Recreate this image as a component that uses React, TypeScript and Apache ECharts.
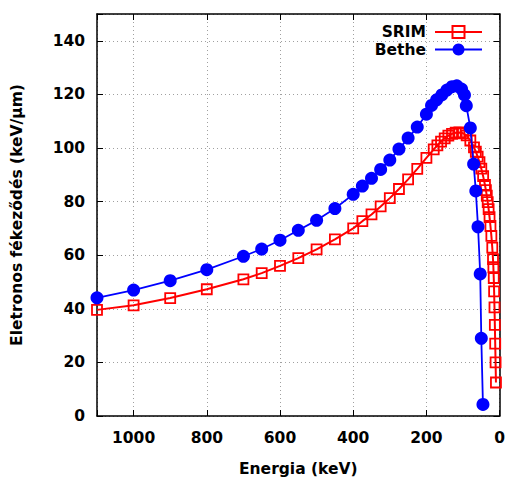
import React, { useEffect, useRef } from "react";
import * as echarts from "echarts";

const srimEnergy = [1100, 1000, 900, 800, 700, 650, 600, 550, 500, 450, 400, 375, 350, 325, 300, 275, 250, 225, 200, 180, 170, 160, 150, 140, 130, 120, 110, 100, 90, 80, 70, 65, 60, 55, 50, 45, 40, 37.5, 35, 32.5, 30, 27.5, 25, 22.5, 20, 18, 17, 16, 15, 14, 13, 12, 11, 10];
const srimValue = [39.6, 41.3, 44.0, 47.3, 51.0, 53.3, 56.0, 58.9, 62.2, 65.9, 70.0, 72.7, 75.2, 78.2, 81.3, 84.7, 88.3, 92.2, 96.3, 99.5, 101.0, 102.4, 103.6, 104.6, 105.3, 105.7, 105.8, 105.5, 104.7, 102.8, 100.2, 98.6, 96.8, 94.7, 92.3, 89.5, 86.2, 84.3, 82.2, 79.8, 77.2, 74.2, 70.9, 67.2, 62.8, 58.5, 55.5, 51.5, 46.5, 40.5, 34, 27, 20, 12.5];

const betheEnergy = [1100, 1000, 900, 800, 700, 650, 600, 550, 500, 450, 400, 375, 350, 325, 300, 275, 250, 225, 200, 186, 172, 158, 144, 130, 117, 104, 96, 91, 80, 71, 65, 59, 53, 50, 45.5];
const betheValue = [44.1, 47.0, 50.5, 54.6, 59.6, 62.3, 65.6, 69.3, 73.0, 77.4, 82.7, 85.8, 88.7, 92.0, 95.5, 99.6, 103.7, 107.8, 112.6, 115.9, 118.0, 119.8, 121.6, 122.9, 123.2, 122.0, 119.8, 115.8, 107.5, 94.0, 84.0, 70.6, 53.0, 29.0, 4.3];

const seriesNames = ["SRIM", "Bethe"];
const xTitle = "Energia (keV)";
const yTitle = "Eletronos fékeződés (keV/μm)";

const FONT = "DejaVu Sans";

export default function App() {
  const ref = useRef<HTMLDivElement>(null);
  useEffect(() => {
    if (!ref.current) return;
    const chart = echarts.init(ref.current, undefined, { renderer: "svg" });
    const gridLine = { show: true, lineStyle: { color: "#a0a0a0", width: 1, type: [1, 3] as any } };
    const axisLine = { show: true, onZero: false, lineStyle: { color: "#000", width: 1.5 } };
    const tick = { show: true, inside: true, length: 6, lineStyle: { color: "#000", width: 1 } };
    const labelFont = { fontFamily: FONT, fontWeight: "bold" as const, fontSize: 15.5, color: "#000" };
    chart.setOption({
      animation: false,
      backgroundColor: "#fff",
      grid: { left: 97, right: 6.5, top: 14, bottom: 64, containLabel: false },
      legend: {
        data: seriesNames,
        orient: "vertical",
        right: 20,
        top: 19,
        align: "right",
        itemWidth: 47,
        itemHeight: 15,
        itemGap: 1.5,
        textStyle: { ...labelFont, padding: [0, 4, 0, 0] },
      },
      xAxis: [
        {
          type: "value",
          min: 0,
          max: 1100,
          interval: 200,
          inverse: true,
          axisLine,
          axisTick: tick,
          splitLine: gridLine,
          axisLabel: { ...labelFont, margin: 14, formatter: (v: number) => (v === 1100 ? "" : String(v)) },
          name: xTitle,
          nameLocation: "middle",
          nameGap: 45,
          nameTextStyle: { ...labelFont },
        },
        {
          type: "value",
          position: "top",
          min: 0,
          max: 1100,
          interval: 200,
          inverse: true,
          axisLine,
          axisTick: tick,
          splitLine: { show: false },
          axisLabel: { show: false },
        },
      ],
      yAxis: [
        {
          type: "value",
          min: 0,
          max: 150,
          interval: 20,
          axisLine,
          axisTick: tick,
          splitLine: gridLine,
          axisLabel: { ...labelFont, margin: 12, formatter: (v: number) => (v === 150 ? "" : String(v)) },
          name: yTitle,
          nameLocation: "middle",
          nameGap: 72,
          nameTextStyle: { ...labelFont },
        },
        {
          type: "value",
          position: "right",
          min: 0,
          max: 150,
          interval: 20,
          axisLine,
          axisTick: tick,
          splitLine: { show: false },
          axisLabel: { show: false },
        },
      ],
      series: [
        {
          name: seriesNames[0],
          type: "line",
          xAxisIndex: 0,
          yAxisIndex: 0,
          data: srimEnergy.map((e, i) => [e, srimValue[i]]),
          symbol: "rect",
          symbolSize: 10,
          showAllSymbol: true,
          lineStyle: { color: "#ff0000", width: 2 },
          itemStyle: { color: "rgba(255,255,255,0)", borderColor: "#ff0000", borderWidth: 1.8 },
          z: 2,
        },
        {
          name: seriesNames[1],
          type: "line",
          xAxisIndex: 0,
          yAxisIndex: 0,
          data: betheEnergy.map((e, i) => [e, betheValue[i]]),
          symbol: "circle",
          symbolSize: 13,
          showAllSymbol: true,
          lineStyle: { color: "#0000ff", width: 1.8 },
          itemStyle: { color: "#0000ff", borderWidth: 0 },
          z: 3,
        },
      ],
    });
    return () => chart.dispose();
  }, []);
  return <div ref={ref} style={{ position: "absolute", left: 0, top: 0, width: 508, height: 482 }} />;
}
